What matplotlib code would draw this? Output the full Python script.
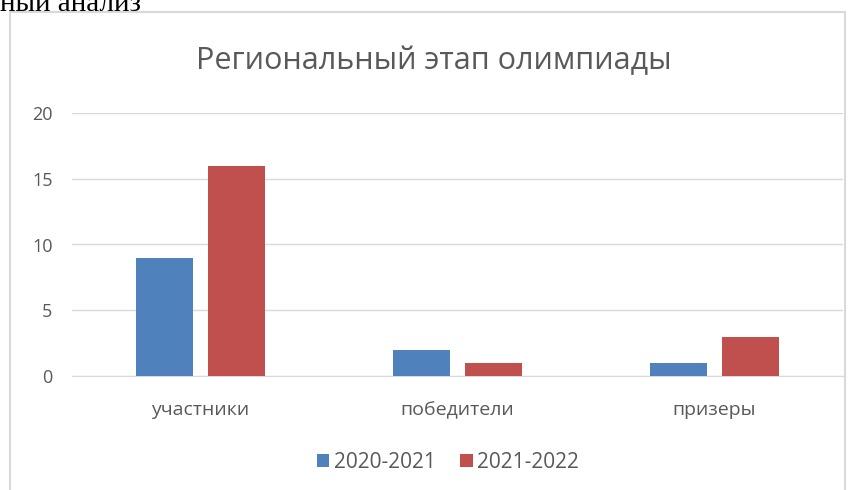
import matplotlib
matplotlib.use('Agg')
import matplotlib.pyplot as plt
import numpy as np
from matplotlib.patches import Rectangle

plt.rcParams['font.family'] = ['Open Sans', 'DejaVu Sans']

# Данные
categories = ['участники', 'победители', 'призеры']
series_names = ['2020-2021', '2021-2022']
values_2020 = [9, 2, 1]
values_2021 = [16, 1, 3]
colors = ['#4F81BD', '#C0504D']

fig = plt.figure(figsize=(8.62, 4.9), dpi=100)

# рамка диаграммы
fig.patches.append(Rectangle((10/862, -0.05), (845-10)/862, 1.05 - 12/490,
                             transform=fig.transFigure, fill=False,
                             edgecolor='#D9D9D9', lw=1.5))

# обрезанный текст сверху
fig.text(0.0, 1 - 11/490, 'ный анализ', family=['Liberation Serif', 'DejaVu Serif'],
         fontsize=21, color='black', va='baseline', ha='left')

ax = fig.add_axes([72/862, 1 - 376/490, (843-72)/862, (376-113)/490])

x = np.arange(len(categories))
w = 0.225
ax.bar(x - 0.14, values_2020, w, color=colors[0], label=series_names[0], zorder=3)
ax.bar(x + 0.14, values_2021, w, color=colors[1], label=series_names[1], zorder=3)

ax.set_xlim(-0.5, 2.5)
ax.set_ylim(0, 20)
ax.set_yticks([0, 5, 10, 15, 20])
ax.set_xticks(x)
ax.set_xticklabels(categories, fontsize=14)
ax.grid(axis='y', color='#D9D9D9', lw=1, zorder=0)
for s in ['top', 'right', 'left']:
    ax.spines[s].set_visible(False)
ax.spines['bottom'].set_color('#D9D9D9')
ax.tick_params(axis='both', length=0, colors='#595959')
ax.tick_params(axis='y', pad=14, labelsize=13)
ax.tick_params(axis='x', pad=18)

fig.text(434/862, 1 - 61/490, 'Региональный этап олимпиады', ha='center', va='center',
         fontsize=22, color='#595959')

fig.legend(loc='center', bbox_to_anchor=(448/862, 1 - 462/490), ncol=2, frameon=False,
           handlelength=0.6, handleheight=0.6, handletextpad=0.2, columnspacing=1.2,
           fontsize=15, labelcolor='#595959')

fig.savefig('out.png', dpi=100)
